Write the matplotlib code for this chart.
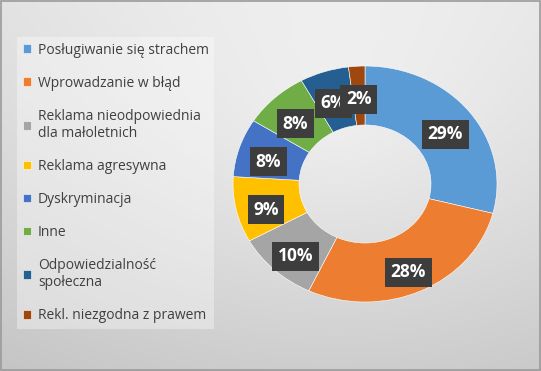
import matplotlib.pyplot as plt
import numpy as np
from matplotlib.patches import Rectangle

categories = [
    "Posługiwanie się strachem",
    "Wprowadzanie w błąd",
    "Reklama nieodpowiednia\ndla małoletnich",
    "Reklama agresywna",
    "Dyskryminacja",
    "Inne",
    "Odpowiedzialność\nspołeczna",
    "Rekl. niezgodna z prawem",
]
shares = [29, 28, 10, 9, 8, 8, 6, 2]
colors = ["#5B9BD5", "#ED7D31", "#A5A5A5", "#FFC000",
          "#4472C4", "#70AD47", "#255E91", "#9E480E"]

W, H = 541, 371
fig = plt.figure(figsize=(W / 100, H / 100), dpi=100)

# background: soft gradient, light at top centre, grey toward the bottom
bg = fig.add_axes([0, 0, 1, 1])
yy, xx = np.mgrid[0:1:200j, 0:1:300j]
r = np.sqrt(((xx - 0.62) * 1.2) ** 2 + (yy - 0.35) ** 2)
val = 0.97 - 0.10 * yy - 0.10 * r
bg.imshow(np.dstack([val, val, val]), extent=[0, 1, 0, 1], aspect="auto",
          origin="upper", interpolation="bicubic")
bg.add_patch(Rectangle((0.001, 0.002), 0.997, 0.995, fill=False,
                       edgecolor="#9a9a9a", linewidth=1.2))
bg.set_xlim(0, 1)
bg.set_ylim(0, 1)
bg.axis("off")

# donut (slightly wider than tall, as in the original)
ax = fig.add_axes([233 / W, (H - 302) / H, 264 / W, 236 / H])
wedges, _ = ax.pie(
    shares, colors=colors, startangle=90, counterclock=False,
    wedgeprops=dict(width=0.5, edgecolor="white", linewidth=0.4),
)
ax.set_aspect("auto")
ax.set_xlim(-1, 1)
ax.set_ylim(-1, 1)

for w, v in zip(wedges, shares):
    ang = np.deg2rad((w.theta1 + w.theta2) / 2)
    ax.text(0.77 * np.cos(ang), 0.77 * np.sin(ang) - 0.05, f"{v}%",
            ha="center", va="center", color="white", fontsize=12.5,
            fontweight="bold", family="Open Sans",
            bbox=dict(boxstyle="square,pad=0.32", facecolor="#3d3d3d",
                      edgecolor="none"))

leg = fig.legend(
    wedges, categories, loc="upper left", bbox_to_anchor=(10 / W, 1 - 30 / H),
    frameon=True, fancybox=False, handlelength=0.6, handleheight=0.6,
    handletextpad=0.5, labelspacing=1.3, borderpad=0.4,
    prop=dict(family="Open Sans", size=10), labelcolor="#404040",
)
leg.get_frame().set_facecolor("white")
leg.get_frame().set_alpha(0.35)
leg.get_frame().set_edgecolor("none")

fig.savefig("out.png", dpi=100)
